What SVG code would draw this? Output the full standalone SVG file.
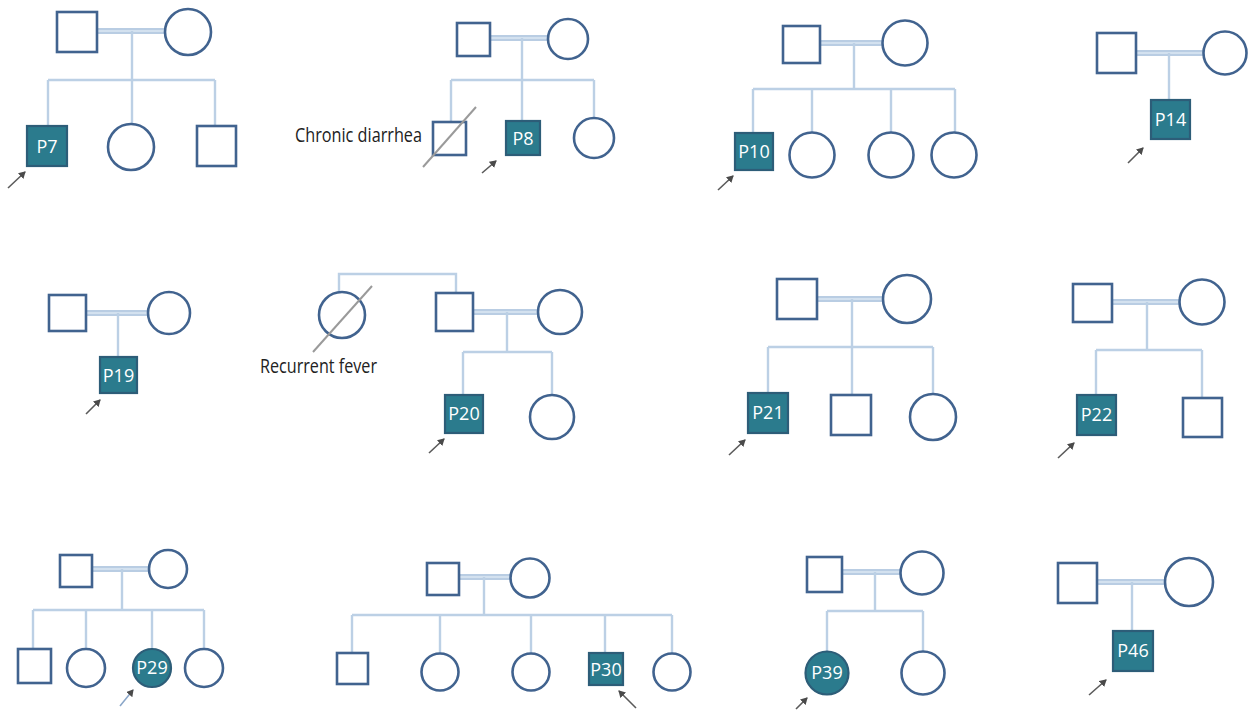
<svg xmlns="http://www.w3.org/2000/svg" width="1248" height="710" viewBox="0 0 1248 710">
<defs>
<style>
.s{fill:#fff;stroke:#41638f;stroke-width:2.6}
.a{fill:#2b7b8d;stroke:#2d5d78;stroke-width:2.2}
.ln{fill:none;stroke:#bcd0e5;stroke-width:2.4}
.mo{fill:none;stroke:#b9cde3;stroke-width:6}
.mi{fill:none;stroke:#dde7f3;stroke-width:1.6}
.ar{fill:none;stroke:#5a5a5a;stroke-width:1.6;marker-end:url(#ah)}
.sl{stroke:#9a9a9a;stroke-width:2}
.lb{font-family:"Open Sans","Noto Sans",sans-serif;font-size:18px;fill:#fff;text-anchor:middle}
.tx{font-family:"Open Sans","Noto Sans",sans-serif;font-size:20px;fill:#222}
</style>
<marker id="ah" markerWidth="8" markerHeight="8" refX="6" refY="4" orient="auto" markerUnits="userSpaceOnUse">
<path d="M0,0 L7,4 L0,8 Z" fill="#4a4a4a"/>
</marker>
</defs>
<rect width="1248" height="710" fill="#fff"/>

<g id="connectors">
<!-- P7 -->
<path class="mo" d="M97,31 H165"/><path class="mi" d="M97,31 H165"/>
<path class="ln" d="M132,31 V80 M48,80 H215 M48,80 V126 M132,80 V124 M215,80 V126"/>
<!-- P8 -->
<path class="mo" d="M490,38 H548"/><path class="mi" d="M490,38 H548"/>
<path class="ln" d="M522,38 V121 M451,80 H594 M451,80 V122 M594,80 V118"/>
<!-- P10 -->
<path class="mo" d="M820,43 H883"/><path class="mi" d="M820,43 H883"/>
<path class="ln" d="M854,43 V89 M753,89 H955 M753,89 V133 M812,89 V133 M891,89 V133 M955,89 V133"/>
<!-- P14 -->
<path class="mo" d="M1136,53 H1203"/><path class="mi" d="M1136,53 H1203"/>
<path class="ln" d="M1169,53 V100"/>
<!-- P19 -->
<path class="mo" d="M86,313 H148"/><path class="mi" d="M86,313 H148"/>
<path class="ln" d="M118,313 V357"/>
<!-- P20 -->
<path class="ln" d="M339,292 V274 H456 V293"/>
<path class="mo" d="M473,312 H538"/><path class="mi" d="M473,312 H538"/>
<path class="ln" d="M507,312 V352 M463,352 H552 M463,352 V395 M552,352 V395"/>
<!-- P21 -->
<path class="mo" d="M817,299 H883"/><path class="mi" d="M817,299 H883"/>
<path class="ln" d="M852,299 V347 M768,347 H933 M768,347 V393 M852,347 V395 M933,347 V394"/>
<!-- P22 -->
<path class="mo" d="M1112,302 H1179"/><path class="mi" d="M1112,302 H1179"/>
<path class="ln" d="M1147,302 V350 M1096,350 H1202 M1096,350 V395 M1202,350 V398"/>
<!-- P29 -->
<path class="mo" d="M92,569 H149"/><path class="mi" d="M92,569 H149"/>
<path class="ln" d="M122,569 V610 M33,610 H204 M33,610 V649 M86,610 V649 M152,610 V649 M204,610 V649"/>
<!-- P30 -->
<path class="mo" d="M459,577 H511"/><path class="mi" d="M459,577 H511"/>
<path class="ln" d="M484,577 V615 M352,615 H672 M352,615 V653 M440,615 V653 M531,615 V653 M605,615 V653 M672,615 V653"/>
<!-- P39 -->
<path class="mo" d="M842,572 H900"/><path class="mi" d="M842,572 H900"/>
<path class="ln" d="M875,572 V611 M827,611 H923 M827,611 V651 M923,611 V651"/>
<!-- P46 -->
<path class="mo" d="M1097,582 H1165"/><path class="mi" d="M1097,582 H1165"/>
<path class="ln" d="M1132,582 V631"/>
</g>

<!-- Pedigree P7 -->
<g id="ped-p7">
<rect class="s" x="57" y="12" width="40" height="40"/>
<circle class="s" cx="188" cy="32" r="23"/>
<rect class="a" x="27" y="126" width="40" height="40"/>
<text class="lb" x="47" y="153">P7</text>
<circle class="s" cx="131" cy="147" r="23"/>
<rect class="s" x="197" y="126" width="39" height="40"/>
<path class="ar" d="M8,188 L25,172"/>
</g>

<!-- Pedigree P8 -->
<g id="ped-p8">
<rect class="s" x="457" y="23" width="33" height="33"/>
<circle class="s" cx="568" cy="39" r="20"/>
<rect class="s" x="433" y="122" width="33" height="33"/>
<line class="sl" x1="423" y1="167" x2="476" y2="107"/>
<text class="tx" x="295" y="142" textLength="127" lengthAdjust="spacingAndGlyphs">Chronic diarrhea</text>
<rect class="a" x="506" y="121" width="34" height="34"/>
<text class="lb" x="523" y="145">P8</text>
<circle class="s" cx="594" cy="138" r="20"/>
<path class="ar" d="M482,173 L496,161"/>
</g>

<!-- Pedigree P10 -->
<g id="ped-p10">
<rect class="s" x="783" y="26" width="37" height="37"/>
<circle class="s" cx="905" cy="43" r="22.5"/>
<rect class="a" x="735" y="133" width="38" height="37"/>
<text class="lb" x="754" y="158">P10</text>
<circle class="s" cx="812" cy="155" r="22.5"/>
<circle class="s" cx="891" cy="155" r="22.5"/>
<circle class="s" cx="954" cy="155" r="22.5"/>
<path class="ar" d="M718,190 L733,176"/>
</g>

<!-- Pedigree P14 -->
<g id="ped-p14">
<rect class="s" x="1097" y="33" width="39" height="40"/>
<circle class="s" cx="1225" cy="53" r="21.5"/>
<rect class="a" x="1151" y="100" width="39" height="39"/>
<text class="lb" x="1170.5" y="126">P14</text>
<path class="ar" d="M1128,163 L1143,148"/>
</g>

<!-- Pedigree P19 -->
<g id="ped-p19">
<rect class="s" x="49" y="295" width="37" height="36"/>
<circle class="s" cx="169" cy="313" r="21"/>
<rect class="a" x="100" y="357" width="37" height="36"/>
<text class="lb" x="118.5" y="382">P19</text>
<path class="ar" d="M86,414 L100,400"/>
</g>

<!-- Pedigree P20 -->
<g id="ped-p20">
<circle class="s" cx="342" cy="315" r="23"/>
<line class="sl" x1="313" y1="352" x2="372" y2="286"/>
<text class="tx" x="260" y="373" font-size="19" textLength="117" lengthAdjust="spacingAndGlyphs">Recurrent fever</text>
<rect class="s" x="436" y="293" width="37" height="38"/>
<circle class="s" cx="560" cy="312" r="22"/>
<rect class="a" x="445" y="395" width="38" height="38"/>
<text class="lb" x="464" y="420">P20</text>
<circle class="s" cx="552" cy="417" r="22"/>
<path class="ar" d="M429,453 L444,439"/>
</g>

<!-- Pedigree P21 -->
<g id="ped-p21">
<rect class="s" x="777" y="279" width="40" height="40"/>
<circle class="s" cx="907" cy="299" r="24"/>
<rect class="a" x="748" y="393" width="40" height="40"/>
<text class="lb" x="768" y="419">P21</text>
<rect class="s" x="831" y="395" width="40" height="40"/>
<circle class="s" cx="933" cy="417" r="23"/>
<path class="ar" d="M729,455 L745,440"/>
</g>

<!-- Pedigree P22 -->
<g id="ped-p22">
<rect class="s" x="1073" y="284" width="39" height="38"/>
<circle class="s" cx="1202" cy="302" r="22.5"/>
<rect class="a" x="1077" y="395" width="39" height="40"/>
<text class="lb" x="1096.5" y="421">P22</text>
<rect class="s" x="1183" y="398" width="39" height="39"/>
<path class="ar" d="M1058,458 L1074,443"/>
</g>

<!-- Pedigree P29 -->
<g id="ped-p29">
<rect class="s" x="60" y="555" width="32" height="32"/>
<circle class="s" cx="168" cy="569" r="19"/>
<rect class="s" x="18" y="649" width="33" height="34"/>
<circle class="s" cx="86" cy="668" r="19"/>
<circle class="a" cx="152" cy="668" r="19"/>
<text class="lb" x="152" y="674">P29</text>
<circle class="s" cx="204" cy="668" r="19"/>
<path class="ar" d="M120,706 L133,690" style="stroke:#8aa6c8"/>
</g>

<!-- Pedigree P30 -->
<g id="ped-p30">
<rect class="s" x="427" y="563" width="32" height="32"/>
<circle class="s" cx="530" cy="578" r="19.5"/>
<rect class="s" x="337" y="653" width="31" height="31"/>
<circle class="s" cx="440" cy="672" r="18.5"/>
<circle class="s" cx="531" cy="672" r="18.5"/>
<rect class="a" x="589" y="653" width="34" height="32"/>
<text class="lb" x="606" y="676">P30</text>
<circle class="s" cx="672" cy="672" r="18.5"/>
<path class="ar" d="M636,708 L619,691"/>
</g>

<!-- Pedigree P39 -->
<g id="ped-p39">
<rect class="s" x="807" y="557" width="35" height="35"/>
<circle class="s" cx="922" cy="573" r="21.5"/>
<circle class="a" cx="827" cy="673" r="21.5"/>
<text class="lb" x="827" y="679">P39</text>
<circle class="s" cx="923" cy="673" r="21.5"/>
<path class="ar" d="M796,709 L807,698"/>
</g>

<!-- Pedigree P46 -->
<g id="ped-p46">
<rect class="s" x="1058" y="563" width="39" height="40"/>
<circle class="s" cx="1189" cy="582" r="24"/>
<rect class="a" x="1113" y="631" width="40" height="40"/>
<text class="lb" x="1133" y="657">P46</text>
<path class="ar" d="M1089,695 L1106,680"/>
</g>
</svg>
